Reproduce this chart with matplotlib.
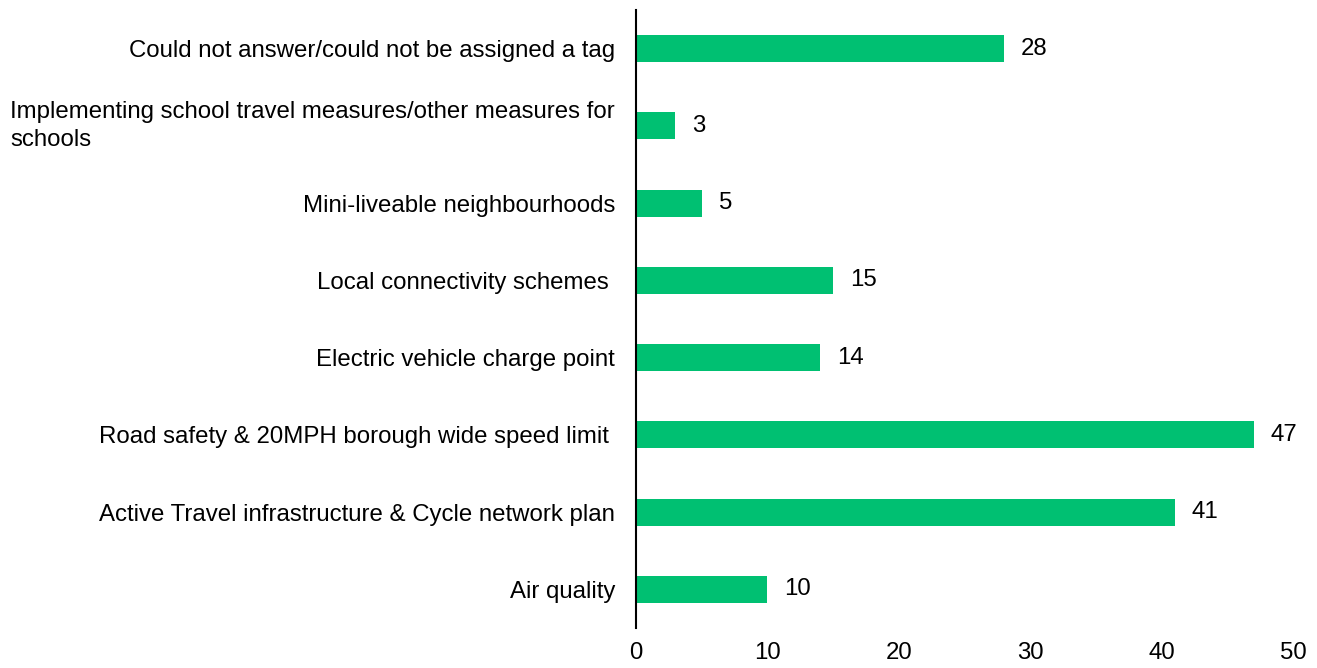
import matplotlib.pyplot as plt
import matplotlib.transforms as mtransforms

plt.rcParams['font.family'] = ['Liberation Sans', 'DejaVu Sans']

categories = [
    "Air quality",
    "Active Travel infrastructure & Cycle network plan",
    "Road safety & 20MPH borough wide speed limit ",
    "Electric vehicle charge point",
    "Local connectivity schemes ",
    "Mini-liveable neighbourhoods",
    "Implementing school travel measures/other measures for\nschools",
    "Could not answer/could not be assigned a tag",
]
counts = [10, 41, 47, 14, 15, 5, 3, 28]
xticks = [0, 10, 20, 30, 40, 50]

fs = 17.3
fig = plt.figure(figsize=(13.17, 6.68), dpi=100)
ax = fig.add_axes([0.4829, 0.060, 0.4989, 0.925])

pos = list(range(len(categories)))
ax.barh(pos, counts, height=0.35, color='#00C072')
for y, v in zip(pos, counts):
    ax.annotate(str(v), xy=(v, y), xytext=(17, 0), textcoords='offset pixels',
                va='center', ha='left', fontsize=fs)

ax.set_ylim(-0.5, len(categories) - 0.5)
ax.set_xlim(0, 50)
ax.set_xticks(xticks)
ax.set_xticklabels([str(t) for t in xticks], fontsize=fs)
ax.tick_params(axis='x', length=0, pad=10)
ax.tick_params(axis='y', length=0, pad=15)

ax.set_yticks(pos)
labels = [c if '\n' not in c else '' for c in categories]
ax.set_yticklabels(labels, fontsize=fs)

# the wrapped label sits flush left at the figure edge
trans = mtransforms.blended_transform_factory(fig.transFigure, ax.transData)
for y, c in zip(pos, categories):
    if '\n' in c:
        ax.text(0.0076, y, c, transform=trans, ha='left', va='center',
                fontsize=fs, linespacing=1.35)

for side in ['top', 'right', 'bottom']:
    ax.spines[side].set_visible(False)
ax.spines['left'].set_linewidth(1.5)

fig.savefig('out.png', dpi=100)
